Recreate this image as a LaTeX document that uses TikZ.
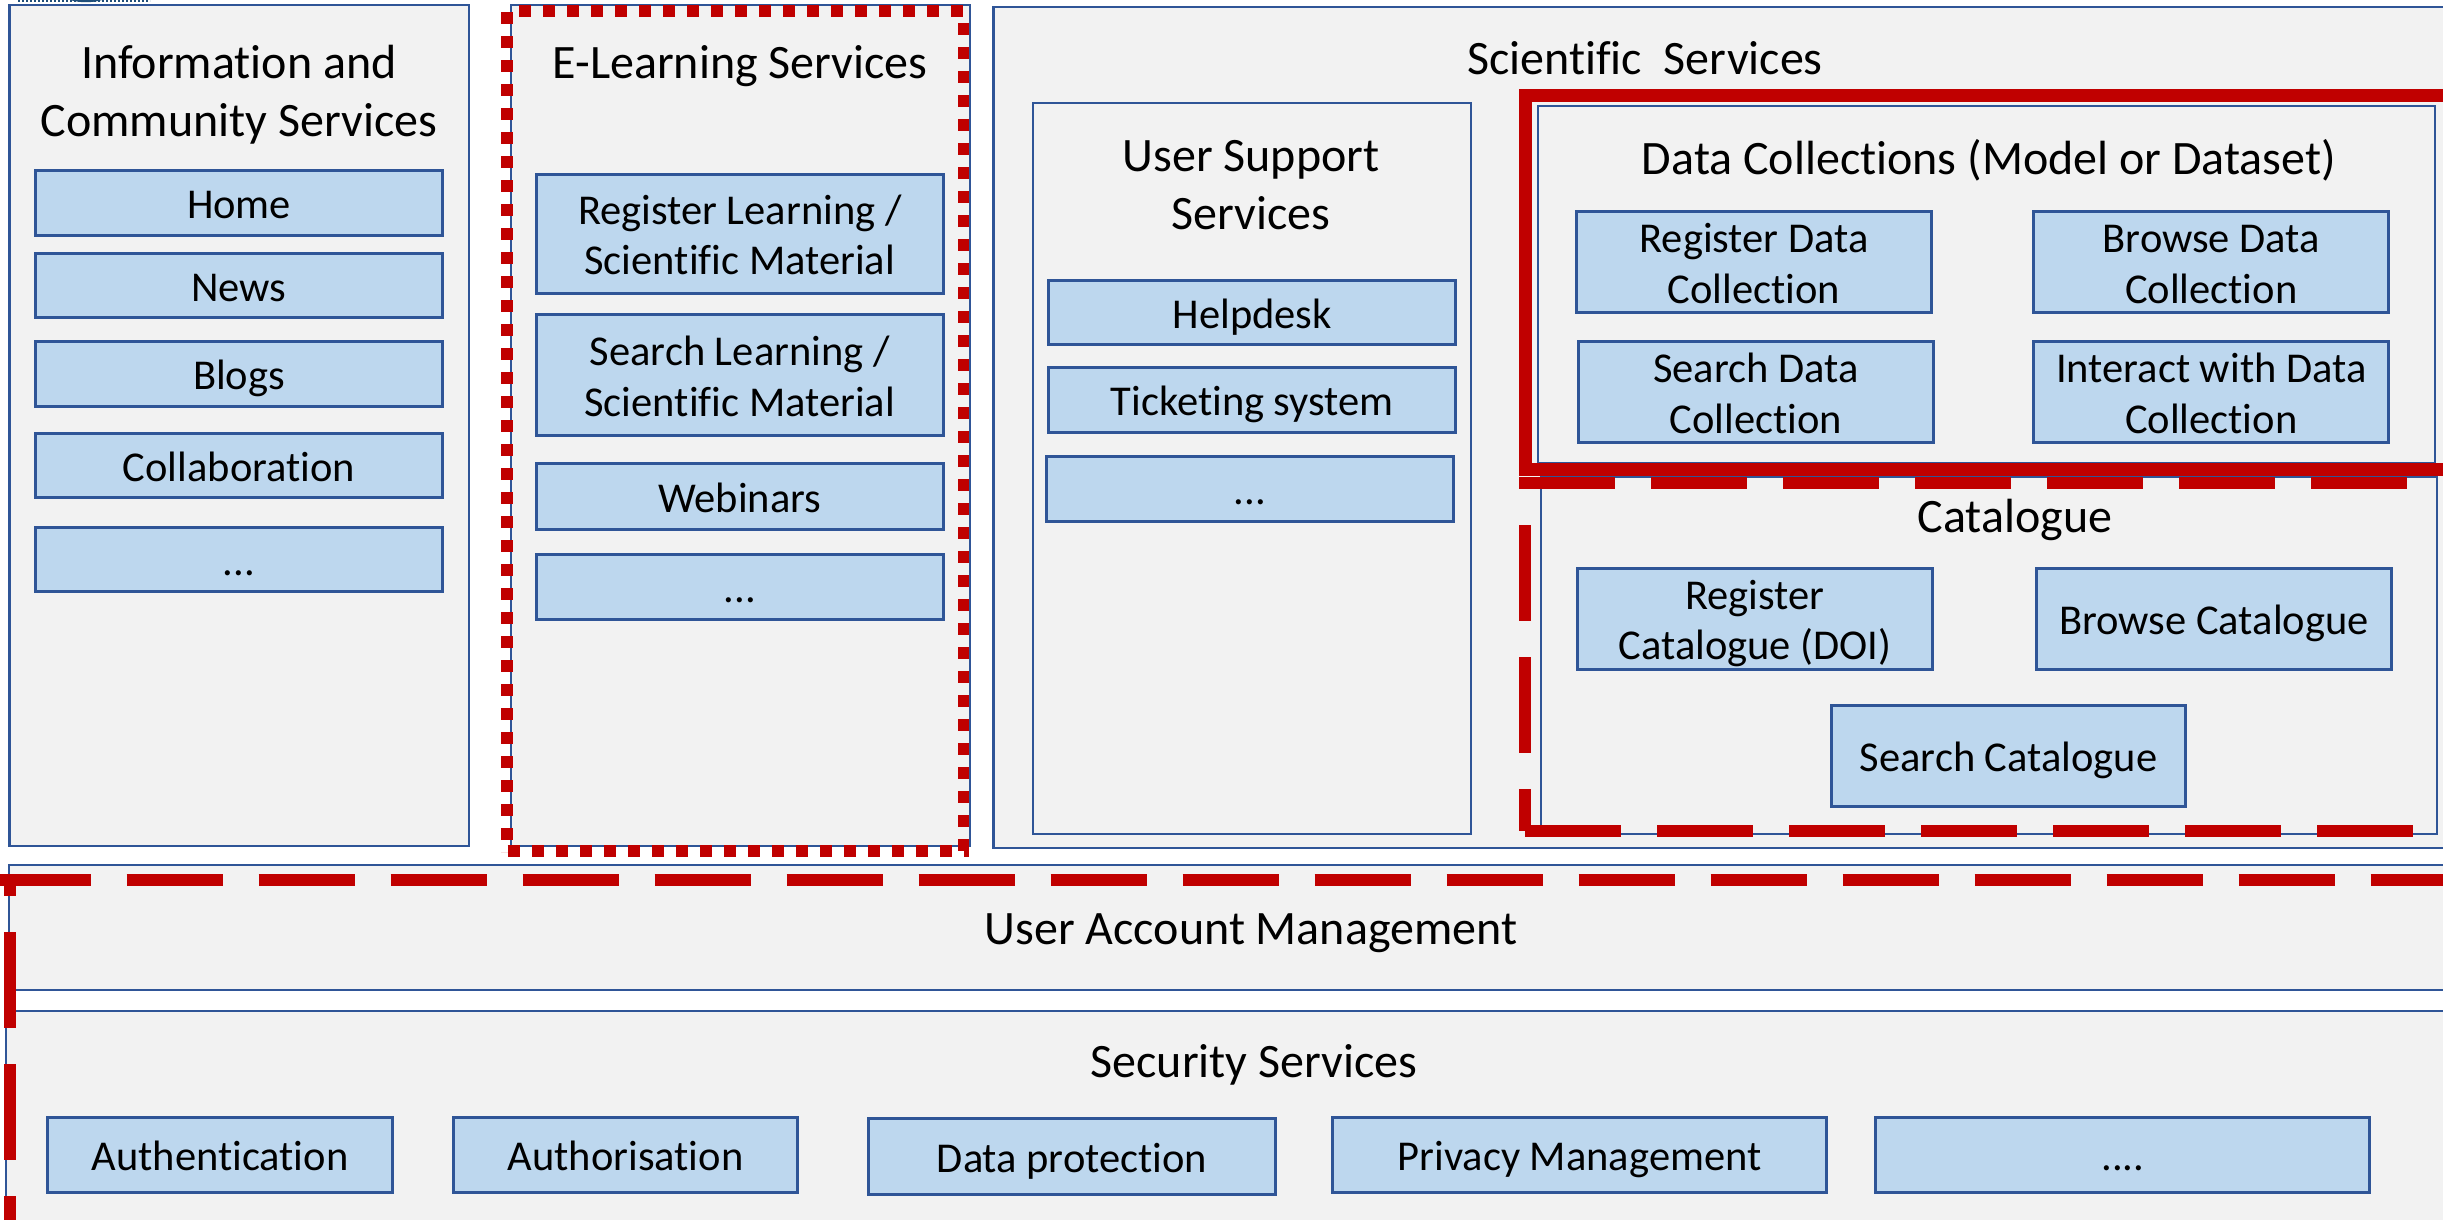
\documentclass[tikz,border=0pt]{standalone}
\usepackage{fontspec}
\setmainfont[Ligatures=NoCommon]{Carlito}
\definecolor{bluefill}{HTML}{BDD7EE}
\definecolor{blueline}{HTML}{2F5597}
\definecolor{greyfill}{HTML}{F2F2F2}
\definecolor{redline}{HTML}{C00000}
\definecolor{logoblue}{HTML}{1F4E79}
\newcommand{\ls}{\rule[-9pt]{0pt}{49pt}}
\tikzset{
 x=1pt,y=-1pt,
 group/.style={draw=blueline,line width=2.8pt,fill=greyfill},
 item/.style={draw=blueline,line width=3pt,fill=bluefill},
 lab/.style={font=\fontsize{42.5}{50.5}\selectfont,align=center,inner sep=0pt,text=black},
 biglab/.style={font=\fontsize{48}{58}\selectfont,align=center,inner sep=0pt,text=black},
 reddot/.style={draw=redline,line width=11.5pt,dash pattern=on 12pt off 12pt},
 reddash/.style={draw=redline,line width=12pt,dash pattern=on 96pt off 36pt},
 redsolid/.style={draw=redline,line width=13pt},
}
\newcommand{\ibox}[6]{\path[item] ({#2+1.2},{#3+1.2}) rectangle ({#4-1.2},{#5-1.2});
 \node[lab] (#1) at ({(#2+#4)/2},{(#3+#5)/2}) {#6};}
\begin{document}
\begin{tikzpicture}
\useasboundingbox (0,0) rectangle (2443,1220);
% logo fragment cut by the top edge
\draw[logoblue,line width=1.6pt,dash pattern=on 2pt off 2pt] (18,1) -- (150,1);
\fill[logoblue] (70,0) -- (102,0) .. controls (92,3) and (80,3) .. (70,0) -- cycle;
% column groups
\path[group] (9.5,5) rectangle (469,846);
\path[group] (511,5) rectangle (970,846);
\path[group] (993.5,7) rectangle (2460,848);
\path[group] (1033,103) rectangle (1471,834);
\path[group] (1538,106) rectangle (2435,463);
\path[group] (1541,477) rectangle (2437,834);
\path[group] (9,865) rectangle (2460,990);
\path[group] (6,1011) rectangle (2460,1240);
% headings
\node[biglab] (h1) at (239,95) {Information and\\Community Services};
\node[biglab] (h2) at (740,66) {E-Learning Services};
\node[biglab] (h3) at (1645,58) {Scientific\ \ Services};
\node[biglab] (h4) at (1251,185) {User Support\\Services};
\node[biglab] (h5) at (1989,160.5) {Data Collections (Model or Dataset)};
\node[biglab] (h6) at (2015,520) {Catalogue};
\node[biglab] (h7) at (1251,933) {User Account Management};
\node[biglab] (h8) at (1254,1065) {Security Services};
% info
\ibox{home}{34}{169}{444}{237}{\ls Home}
\ibox{news}{34}{252}{444}{319}{\ls News}
\ibox{blogs}{34}{340}{444}{408}{\ls Blogs}
\ibox{collab}{34}{432}{444}{499}{\ls Collaboration}
\ibox{idots}{34}{526}{444}{593}{\ls ...}
% e-learning
\ibox{regl}{535}{173}{944.5}{295}{\ls Register Learning /\\\ls Scientific Material}
\ibox{serl}{535}{313.5}{944.5}{437}{\ls Search Learning /\\\ls Scientific Material}
\ibox{webi}{535}{462.5}{944.5}{530.5}{\ls Webinars}
\ibox{edots}{535}{553}{944.5}{621}{\ls ...}
% user support
\ibox{help}{1047.5}{279}{1457}{346}{\ls Helpdesk}
\ibox{tick}{1047.5}{366}{1457}{434}{\ls Ticketing system}
\ibox{udots}{1045}{455}{1455}{523}{\ls ...}
% data collections
\ibox{regd}{1575}{210.5}{1933}{314}{\ls Register Data\\\ls Collection}
\ibox{brod}{2032.5}{210.5}{2390}{314}{\ls Browse Data\\\ls Collection}
\ibox{serd}{1577}{340.5}{1934.5}{444}{\ls Search Data\\\ls Collection}
\ibox{intd}{2032.5}{340.5}{2390}{444}{\ls Interact with Data\\\ls Collection}
% catalogue
\ibox{regc}{1576}{567}{1934}{671}{\ls Register\\\ls Catalogue (DOI)}
\ibox{broc}{2035}{567}{2393}{671}{\ls Browse Catalogue}
\ibox{serc}{1830}{704}{2187}{808}{\ls Search Catalogue}
% security
\ibox{auth}{46}{1116}{394}{1194}{\ls Authentication}
\ibox{autz}{452}{1116}{799}{1194}{\ls Authorisation}
\ibox{prot}{867}{1117}{1277}{1196}{\ls Data protection}
\ibox{priv}{1331}{1116}{1828}{1194}{\ls Privacy Management}
\ibox{sdots}{1874.5}{1116}{2371}{1194}{\ls ....}
% red outlines
\draw[reddot] (518.5,11) -- (965,11);
\draw[reddot] (507,12) -- (507,852);
\draw[reddot] (963.5,23) -- (963.5,852);
\draw[reddot] (507.5,851) -- (969,851);
\draw[redsolid] (2460,96) -- (1525,96) -- (1525,469.5) -- (2460,469.5);
\draw[reddash] (1519,483) -- (2460,483);
\draw[reddash,dash phase=96pt] (1525,489) -- (1525,831);
\draw[reddash] (1525,831) -- (2413,831);
\draw[reddash] (-5.5,880) -- (2460,880);
\draw[reddash,dash phase=74pt] (10,874) -- (10,1240);
\end{tikzpicture}
\end{document}
